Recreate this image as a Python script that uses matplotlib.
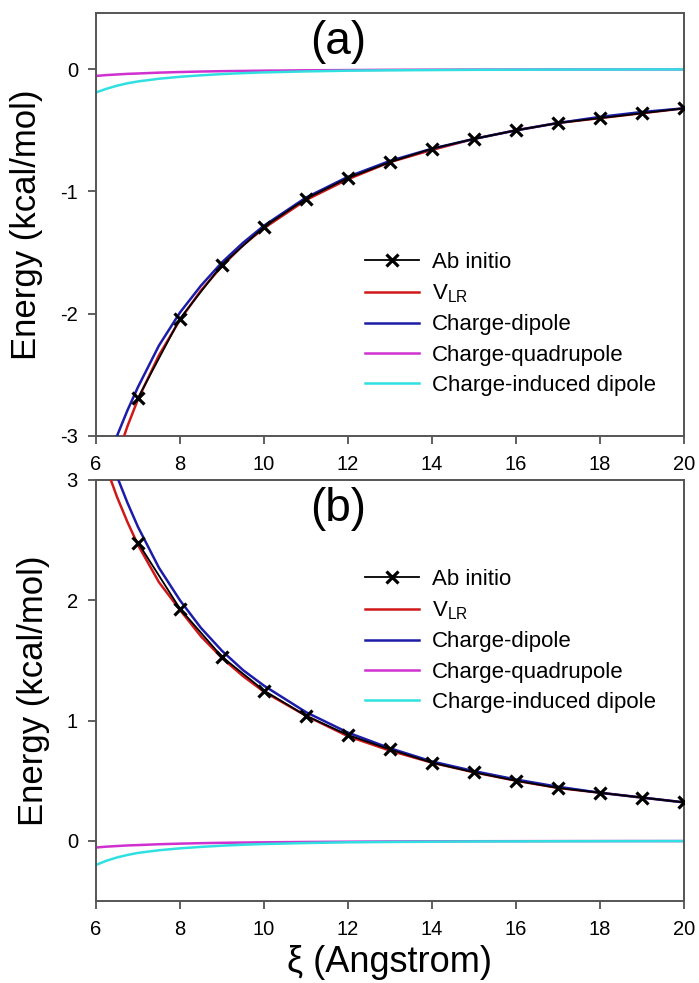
import matplotlib
matplotlib.use("Agg")
import matplotlib.pyplot as plt

plt.rcParams['font.family'] = ['Liberation Sans', 'DejaVu Sans']
plt.rcParams['axes.unicode_minus'] = False

# ---------------- data ----------------
xi_ab = [7, 8, 9, 10, 11, 12, 13, 14, 15, 16, 17, 18, 19, 20]
ab_a = [-2.69, -2.04, -1.60, -1.29, -1.06, -0.89, -0.76, -0.65, -0.57, -0.50, -0.44, -0.40, -0.36, -0.32]
ab_b = [2.48, 1.93, 1.53, 1.25, 1.04, 0.88, 0.76, 0.65, 0.57, 0.50, 0.44, 0.40, 0.36, 0.32]

xi = [6.0, 6.25, 6.5, 6.75, 7.0, 7.5, 8.0, 8.5, 9.0, 9.5, 10.0, 11.0, 12.0, 13.0, 14.0, 15.0, 16.0, 17.0, 18.0, 19.0, 20.0]

vlr_a = [-3.78, -3.45, -3.17, -2.92, -2.70, -2.34, -2.05, -1.81, -1.61, -1.44, -1.30, -1.07, -0.90, -0.76, -0.66, -0.57, -0.50, -0.44, -0.40, -0.36, -0.32]
dip_a = [-3.52, -3.25, -3.00, -2.79, -2.60, -2.26, -1.99, -1.77, -1.58, -1.42, -1.28, -1.05, -0.88, -0.75, -0.65, -0.57, -0.50, -0.44, -0.39, -0.35, -0.32]
quad_a = [-0.055, -0.048, -0.043, -0.038, -0.035, -0.028, -0.023, -0.019, -0.016, -0.014, -0.012, -0.009, -0.007, -0.005, -0.004, -0.003, -0.0025, -0.002, -0.0018, -0.0016, -0.0015]
ind_a = [-0.19, -0.16, -0.135, -0.115, -0.10, -0.078, -0.062, -0.05, -0.04, -0.032, -0.026, -0.018, -0.012, -0.009, -0.007, -0.005, -0.004, -0.003, -0.0025, -0.002, -0.0017]

vlr_b = [3.40, 3.10, 2.86, 2.65, 2.46, 2.15, 1.92, 1.70, 1.52, 1.37, 1.24, 1.04, 0.87, 0.75, 0.65, 0.57, 0.50, 0.44, 0.40, 0.36, 0.32]
dip_b = [3.55, 3.27, 3.03, 2.81, 2.61, 2.27, 2.00, 1.77, 1.58, 1.42, 1.29, 1.07, 0.90, 0.77, 0.66, 0.58, 0.51, 0.45, 0.40, 0.36, 0.32]
quad_b = [-0.055, -0.048, -0.043, -0.038, -0.035, -0.028, -0.023, -0.019, -0.016, -0.014, -0.012, -0.009, -0.007, -0.005, -0.004, -0.003, -0.0025, -0.002, -0.0018, -0.0016, -0.0015]
ind_b = [-0.20, -0.165, -0.138, -0.117, -0.10, -0.078, -0.062, -0.05, -0.04, -0.032, -0.026, -0.018, -0.012, -0.009, -0.007, -0.005, -0.004, -0.003, -0.0025, -0.002, -0.0017]

labels = ['Ab initio', r'V$_{\mathregular{LR}}$', 'Charge-dipole', 'Charge-quadrupole', 'Charge-induced dipole']
xticks = [6, 8, 10, 12, 14, 16, 18, 20]

c_red = '#d01818'
c_blue = '#1c1ca8'
c_mag = '#d030d0'
c_cyan = '#30e0e0'

fig = plt.figure(figsize=(6.99, 9.83), dpi=100)
ax1 = fig.add_axes([0.1373, 0.5565, 0.8412, 0.4303])
ax2 = fig.add_axes([0.1373, 0.0834, 0.8412, 0.4283])

def draw(ax, ab, vlr, dip, quad, ind, ylim, yticks, tag, legy):
    ax.plot(xi, quad, color=c_mag, lw=1.8, label=labels[3], zorder=2)
    ax.plot(xi, ind, color=c_cyan, lw=1.8, label=labels[4], zorder=2)
    ax.plot(xi, vlr, color=c_red, lw=1.8, label=labels[1], zorder=3)
    ax.plot(xi, dip, color=c_blue, lw=1.8, label=labels[2], zorder=3)
    ax.plot(xi_ab, ab, color='black', lw=1.3, marker='x', ms=8, mew=2.3, label=labels[0], zorder=4)
    ax.set_xlim(6, 20)
    ax.set_ylim(*ylim)
    ax.set_xticks(xticks)
    ax.set_yticks(yticks)
    ax.tick_params(direction='out', length=6, width=1.2, labelsize=14.5, top=False, right=False, color='#444444')
    ax.tick_params(axis='x', pad=8)
    ax.tick_params(axis='y', pad=7)
    for s in ax.spines.values():
        s.set_color('#555555')
        s.set_linewidth(1.4)
    ax.set_ylabel('Energy (kcal/mol)', fontsize=25, labelpad=12)
    ax.text(0.412, 0.932, tag, transform=ax.transAxes, fontsize=33, ha='center', va='center')
    h, l = ax.get_legend_handles_labels()
    order = [4, 2, 3, 0, 1]
    ax.legend([h[i] for i in order], [l[i] for i in order], loc='upper left',
              bbox_to_anchor=(0.424, legy), frameon=False, fontsize=16,
              handlelength=2.4, handletextpad=0.6, labelspacing=0.42)

draw(ax1, ab_a, vlr_a, dip_a, quad_a, ind_a, (-3, 0.46), [-3, -2, -1, 0], '(a)', 0.482)
draw(ax2, ab_b, vlr_b, dip_b, quad_b, ind_b, (-0.5, 3), [0, 1, 2, 3], '(b)', 0.836)
ax2.set_xlabel('ξ (Angstrom)', fontsize=26, labelpad=4)

fig.savefig('out.png', dpi=100)
